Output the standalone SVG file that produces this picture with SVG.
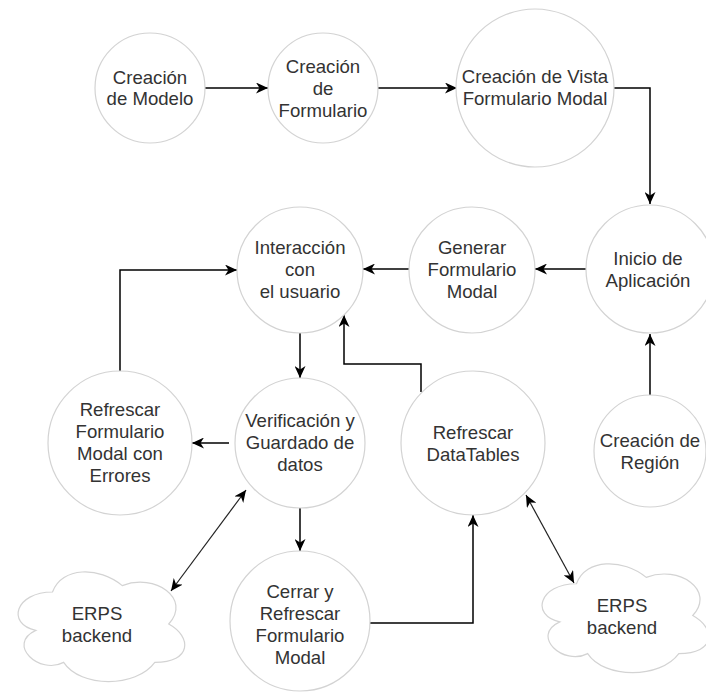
<svg xmlns="http://www.w3.org/2000/svg" width="706" height="692" viewBox="0 0 706 692">
<style>
.n{fill:#fff;stroke:#d3d3d3;stroke-width:1.2}
.t{font-family:"Liberation Sans",Arial,sans-serif;font-size:18.6px;fill:#333;text-anchor:middle}
.c{fill:none;stroke:#000;stroke-width:1.5}
.d{fill:none;stroke:#222;stroke-width:1.2}
</style>
<defs>
<marker id="a" markerUnits="userSpaceOnUse" markerWidth="13" markerHeight="11" refX="12" refY="5.5" orient="auto-start-reverse" viewBox="0 0 13 11">
<path d="M0,0 L12,5.5 L0,11 L3.5,5.5 Z" fill="#000"/>
</marker>
</defs>
<rect width="706" height="692" fill="#fff"/>
<g id="connectors">
<path class="c" d="M205,88 H268" marker-end="url(#a)"/>
<path class="c" d="M378,88 H457" marker-end="url(#a)"/>
<path class="c" d="M614,88 H650 V204" marker-end="url(#a)"/>
<path class="c" d="M586,269 H535" marker-end="url(#a)"/>
<path class="c" d="M409,269 H363" marker-end="url(#a)"/>
<path class="c" d="M650,395 V334" marker-end="url(#a)"/>
<path class="c" d="M300,333 V378" marker-end="url(#a)"/>
<path class="c" d="M229,443 H192" marker-end="url(#a)"/>
<path class="c" d="M120,372 V270 H237" marker-end="url(#a)"/>
<path class="c" d="M421,392 V364 H344 V315" marker-end="url(#a)"/>
<path class="c" d="M300,508 V551" marker-end="url(#a)"/>
<path class="c" d="M370,623 H473 V515" marker-end="url(#a)"/>
<path class="d" d="M246,490 L171,591" marker-start="url(#a)" marker-end="url(#a)"/>
<path class="d" d="M526,495 L574,583" marker-start="url(#a)" marker-end="url(#a)"/>
</g>
<g id="creacion-modelo">
<circle class="n" cx="150" cy="88" r="55"/>
<text class="t" x="150" y="84">Creación</text>
<text class="t" x="150" y="105">de Modelo</text>
</g>
<g id="creacion-formulario">
<circle class="n" cx="323" cy="88" r="55"/>
<text class="t" x="323" y="73">Creación</text>
<text class="t" x="323" y="95">de</text>
<text class="t" x="323" y="117">Formulario</text>
</g>
<g id="creacion-vista">
<circle class="n" cx="535" cy="88" r="79"/>
<text class="t" x="535" y="83">Creación de Vista</text>
<text class="t" x="535" y="105">Formulario Modal</text>
</g>
<g id="inicio-aplicacion">
<circle class="n" cx="650" cy="269" r="64"/>
<text class="t" x="648" y="265">Inicio de</text>
<text class="t" x="648" y="287">Aplicación</text>
</g>
<g id="generar-formulario">
<circle class="n" cx="472" cy="270" r="63"/>
<text class="t" x="472" y="254">Generar</text>
<text class="t" x="472" y="276">Formulario</text>
<text class="t" x="472" y="298">Modal</text>
</g>
<g id="interaccion">
<circle class="n" cx="300" cy="270" r="63"/>
<text class="t" x="300" y="254">Interacción</text>
<text class="t" x="300" y="276">con</text>
<text class="t" x="300" y="298">el usuario</text>
</g>
<g id="refrescar-errores">
<circle class="n" cx="120" cy="443" r="72"/>
<text class="t" x="120" y="416">Refrescar</text>
<text class="t" x="120" y="438">Formulario</text>
<text class="t" x="120" y="460">Modal con</text>
<text class="t" x="120" y="482">Errores</text>
</g>
<g id="verificacion">
<circle class="n" cx="300" cy="443" r="65"/>
<text class="t" x="300" y="427">Verificación y</text>
<text class="t" x="300" y="449">Guardado de</text>
<text class="t" x="300" y="471">datos</text>
</g>
<g id="refrescar-datatables">
<circle class="n" cx="473" cy="443" r="72"/>
<text class="t" x="473" y="439">Refrescar</text>
<text class="t" x="473" y="461">DataTables</text>
</g>
<g id="creacion-region">
<circle class="n" cx="650" cy="451" r="56"/>
<text class="t" x="650" y="447">Creación de</text>
<text class="t" x="650" y="469">Región</text>
</g>
<g id="cerrar-refrescar">
<circle class="n" cx="300" cy="621" r="70"/>
<text class="t" x="300" y="598">Cerrar y</text>
<text class="t" x="300" y="620">Refrescar</text>
<text class="t" x="300" y="642">Formulario</text>
<text class="t" x="300" y="664">Modal</text>
</g>
<g id="erps-left">
<path class="n" transform="translate(6,560) scale(186,128)" vector-effect="non-scaling-stroke" d="M0.25,0.25 C0.05,0.25 0,0.5 0.16,0.55 C0,0.66 0.18,0.9 0.31,0.8 C0.4,1 0.7,1 0.8,0.8 C1,0.8 1,0.6 0.875,0.5 C1,0.3 0.8,0.1 0.625,0.2 C0.5,0.05 0.3,0.05 0.25,0.25 Z"/>
<text class="t" x="97" y="620">ERPS</text>
<text class="t" x="97" y="642">backend</text>
</g>
<g id="erps-right">
<path class="n" transform="translate(530,552) scale(186,127)" vector-effect="non-scaling-stroke" d="M0.25,0.25 C0.05,0.25 0,0.5 0.16,0.55 C0,0.66 0.18,0.9 0.31,0.8 C0.4,1 0.7,1 0.8,0.8 C1,0.8 1,0.6 0.875,0.5 C1,0.3 0.8,0.1 0.625,0.2 C0.5,0.05 0.3,0.05 0.25,0.25 Z"/>
<text class="t" x="622" y="612">ERPS</text>
<text class="t" x="622" y="634">backend</text>
</g>
</svg>
